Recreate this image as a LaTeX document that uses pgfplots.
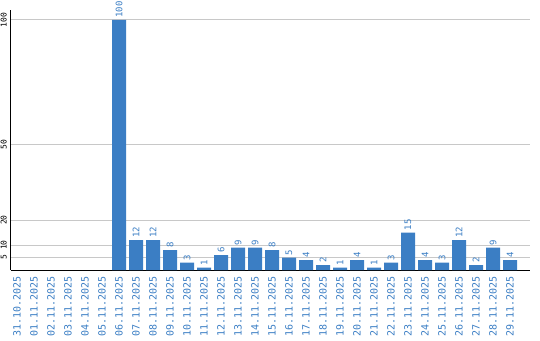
\documentclass[border=0pt]{standalone}
\usepackage{fontspec}
\newfontfamily\mono{DejaVu Sans Mono}
\usepackage{pgfplots}
\pgfplotsset{compat=1.18}
\definecolor{barblue}{HTML}{3B7EC4}
\definecolor{gridgray}{HTML}{C8C8C8}
\begin{document}
\begin{tikzpicture}[x=1pt,y=1pt]
\useasboundingbox (0,0) rectangle (540,340);
\begin{axis}[
  at={(11pt,70pt)}, anchor=south west,
  scale only axis, width=519pt, height=260pt,
  xmin=-0.353, xmax=30.176, ymin=0, ymax=104,
  axis lines=left, axis line style={black, line width=1pt, -},
  ybar, bar width=14pt,
  xtick={0,...,29},
  xticklabels={31.10.2025,01.11.2025,02.11.2025,03.11.2025,04.11.2025,05.11.2025,06.11.2025,07.11.2025,08.11.2025,09.11.2025,10.11.2025,11.11.2025,12.11.2025,13.11.2025,14.11.2025,15.11.2025,16.11.2025,17.11.2025,18.11.2025,19.11.2025,20.11.2025,21.11.2025,22.11.2025,23.11.2025,24.11.2025,25.11.2025,26.11.2025,27.11.2025,28.11.2025,29.11.2025},
  xticklabel style={yshift=-6pt, rotate=90, anchor=east, font=\mono\fontsize{10}{10}\selectfont, text=barblue, inner sep=0pt},
  ytick={5,10,20,50,100},
  yticklabel style={xshift=-4pt, rotate=90, anchor=south, font=\mono\fontsize{8}{8}\selectfont, text=black, inner sep=0pt},
  /pgf/number format/assume math mode=true,
  major tick length=0pt,
  ymajorgrids, grid style={gridgray, line width=1pt},
  nodes near coords,
  every node near coord/.append style={yshift=2pt, rotate=90, anchor=west, font=\mono\fontsize{9}{9}\selectfont, text=barblue, inner sep=0pt},
  clip=false,
]
\addplot[fill=barblue, draw=none] coordinates {
(6,100) (7,12) (8,12) (9,8) (10,3) (11,1) (12,6) (13,9) (14,9) (15,8)
(16,5) (17,4) (18,2) (19,1) (20,4) (21,1) (22,3) (23,15) (24,4) (25,3)
(26,12) (27,2) (28,9) (29,4)
};
\end{axis}
\end{tikzpicture}
\end{document}
